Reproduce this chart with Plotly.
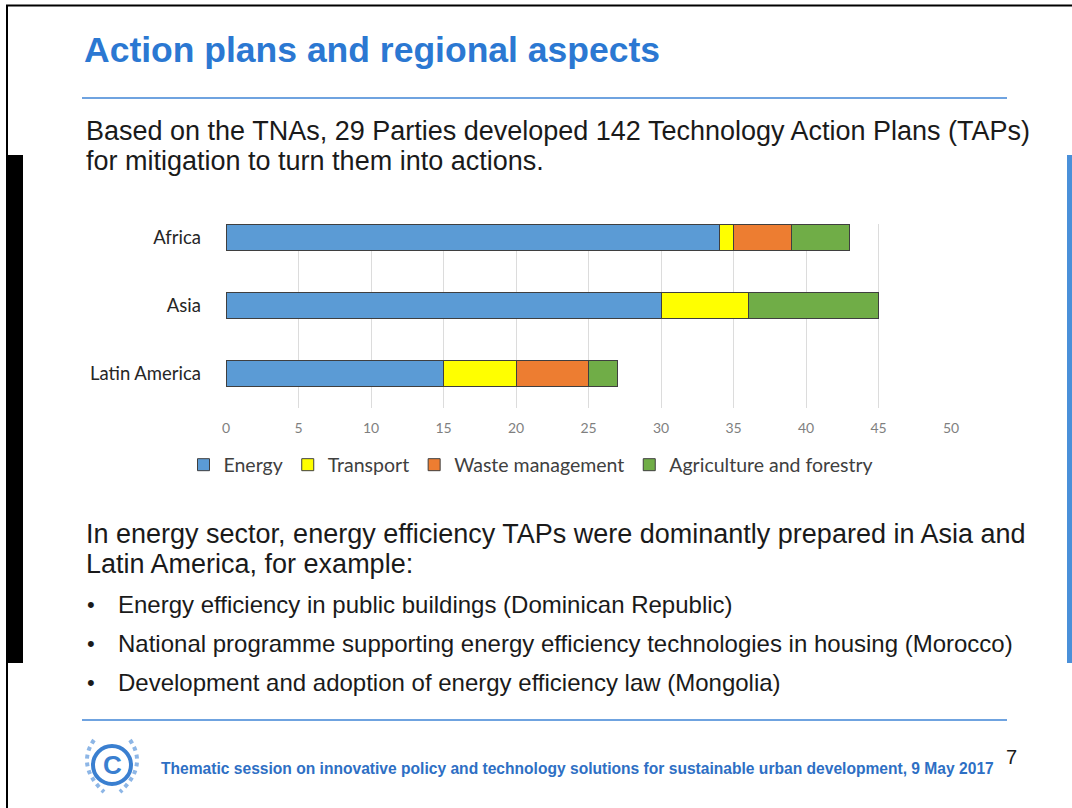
import plotly.graph_objects as go

# ---- data ----
regions = ["Africa", "Asia", "Latin America"]
sectors = ["Energy", "Transport", "Waste management", "Agriculture and forestry"]
energy = [34, 30, 15]
transport = [1, 6, 5]
waste = [4, 0, 5]
agriculture = [4, 9, 2]
x_ticks = [0, 5, 10, 15, 20, 25, 30, 35, 40, 45, 50]

series_values = [energy, transport, waste, agriculture]
colors = ["#5B9BD5", "#FFFF00", "#ED7D31", "#70AD47"]

title_text = "Action plans and regional aspects"
intro_lines = [
    "Based on the TNAs, 29 Parties developed 142 Technology Action Plans (TAPs)",
    "for mitigation to turn them into actions.",
]
body_lines = [
    "In energy sector, energy efficiency TAPs were dominantly prepared in Asia and",
    "Latin America, for example:",
]
bullets = [
    "Energy efficiency in public buildings (Dominican Republic)",
    "National programme supporting energy efficiency technologies in housing (Morocco)",
    "Development and adoption of energy efficiency law (Mongolia)",
]
footer_text = "Thematic session on innovative policy and technology solutions for sustainable urban development, 9 May 2017"
page_number = "7"

# ---- layout geometry (pixels) ----
W, H = 1072, 808
L, R, T, B = 226, 951, 224, 408


def px(x):
    return (x - L) / (R - L)


def py(y):
    return (B - y) / (B - T)


fig = go.Figure()
for name, vals, col in zip(sectors, series_values, colors):
    fig.add_trace(go.Bar(
        y=regions, x=vals, name=name, orientation="h",
        marker=dict(color=col, line=dict(color="#3F3F3F", width=1)),
    ))

shapes = []
# page border
shapes.append(dict(type="line", xref="paper", yref="paper", x0=px(6), x1=px(1072), y0=py(5.5), y1=py(5.5),
                   line=dict(color="black", width=2)))
shapes.append(dict(type="line", xref="paper", yref="paper", x0=px(7), x1=px(7), y0=py(5), y1=py(808),
                   line=dict(color="black", width=2)))
# black side bar
shapes.append(dict(type="rect", xref="paper", yref="paper", x0=px(7), x1=px(23), y0=py(155), y1=py(663),
                   fillcolor="black", line=dict(width=0)))
# blue side bar on right
shapes.append(dict(type="rect", xref="paper", yref="paper", x0=px(1067), x1=px(1072), y0=py(155), y1=py(663),
                   fillcolor="#4A90D9", line=dict(width=0)))
# separators
for yy in (98, 720):
    shapes.append(dict(type="line", xref="paper", yref="paper", x0=px(82), x1=px(1007), y0=py(yy), y1=py(yy),
                       line=dict(color="#6FA3E0", width=2)))
# logo ring and laurel
shapes.append(dict(type="circle", xref="paper", yref="paper", x0=px(93), x1=px(131), y0=py(746), y1=py(784),
                   line=dict(color="#3A7FD0", width=4)))


def qpath(p0, c, p1):
    return "M %f,%f Q %f,%f %f,%f" % (px(p0[0]), py(p0[1]), px(c[0]), py(c[1]), px(p1[0]), py(p1[1]))


for p0, c, p1 in [((94, 740), (76, 766), (104, 792)), ((130, 740), (148, 766), (120, 792))]:
    shapes.append(dict(type="path", xref="paper", yref="paper", path=qpath(p0, c, p1),
                       line=dict(color="#8DB6E6", width=4, dash="dot")))

annotations = []
annotations.append(dict(text="<b>" + title_text + "</b>", xref="paper", yref="paper", x=px(82), y=py(50),
                        xanchor="left", yanchor="middle", showarrow=False,
                        font=dict(family="Liberation Sans", size=35.5, color="#2B78D2")))
for i, line in enumerate(intro_lines):
    annotations.append(dict(text=line, xref="paper", yref="paper", x=px(84), y=py(131 + 30 * i),
                            xanchor="left", yanchor="middle", showarrow=False,
                            font=dict(family="Liberation Sans", size=27, color="#1A1A1A")))
for i, line in enumerate(body_lines):
    annotations.append(dict(text=line, xref="paper", yref="paper", x=px(84), y=py(534 + 30 * i),
                            xanchor="left", yanchor="middle", showarrow=False,
                            font=dict(family="Liberation Sans", size=27, color="#1A1A1A")))
for i, line in enumerate(bullets):
    yy = 604 + 39 * i
    annotations.append(dict(text="•", xref="paper", yref="paper", x=px(85), y=py(yy),
                            xanchor="left", yanchor="middle", showarrow=False,
                            font=dict(family="Liberation Sans", size=22, color="#1A1A1A")))
    annotations.append(dict(text=line, xref="paper", yref="paper", x=px(116), y=py(yy),
                            xanchor="left", yanchor="middle", showarrow=False,
                            font=dict(family="Liberation Sans", size=24, color="#1A1A1A")))
annotations.append(dict(text="<b>" + footer_text + "</b>", xref="paper", yref="paper", x=px(159), y=py(768),
                        xanchor="left", yanchor="middle", showarrow=False,
                        font=dict(family="Liberation Sans", size=15.6, color="#2E6FC4")))
annotations.append(dict(text=page_number, xref="paper", yref="paper", x=px(1004), y=py(757),
                        xanchor="left", yanchor="middle", showarrow=False,
                        font=dict(family="Liberation Sans", size=20, color="#1A1A1A")))
annotations.append(dict(text="<b>C</b>", xref="paper", yref="paper", x=px(112), y=py(765),
                        xanchor="center", yanchor="middle", showarrow=False,
                        font=dict(family="Liberation Sans", size=26, color="#3A7FD0")))

fig.update_layout(
    width=W, height=H,
    margin=dict(l=L, r=W - R, t=T, b=H - B, pad=0),
    paper_bgcolor="white", plot_bgcolor="white",
    barmode="stack", bargap=0.62,
    font=dict(family="Lato", color="#404040"),
    xaxis=dict(range=[0, 50], tickvals=x_ticks, showgrid=True, gridcolor="#DCDCDC", gridwidth=1,
               zeroline=False, showline=False, ticks="", ticklabelstandoff=10,
               tickfont=dict(family="Lato", size=14, color="#7F7F7F"), fixedrange=True),
    yaxis=dict(range=[2.5, -0.2], showgrid=False, zeroline=False, showline=False, ticks="",
               ticklabelstandoff=24, tickfont=dict(family="Lato", size=18.5, color="#262626")),
    legend=dict(orientation="h", x=px(531), y=py(465), xanchor="center", yanchor="middle",
                font=dict(family="Lato", size=19.5, color="#404040"), traceorder="normal",
                itemwidth=30, bgcolor="rgba(0,0,0,0)"),
    showlegend=True,
    shapes=shapes, annotations=annotations,
)

fig.write_html("out.html", config={"displayModeBar": False},
               post_script="document.body.style.margin='0';")
